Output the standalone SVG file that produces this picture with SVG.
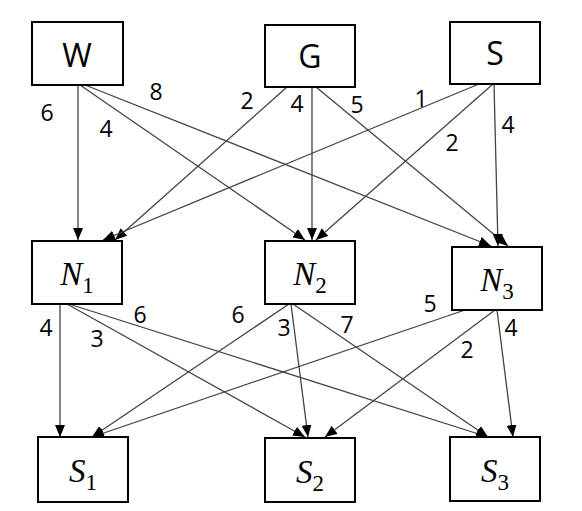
<svg xmlns="http://www.w3.org/2000/svg" width="582" height="511" viewBox="0 0 582 511">
<defs>
<marker id="ah" markerUnits="userSpaceOnUse" markerWidth="12" markerHeight="10" refX="12" refY="5" orient="auto">
<path d="M0,0 L12,5 L0,10 z" fill="#000"/>
</marker>
<style>
.box{fill:#fff;stroke:#000;stroke-width:2}
.edge{stroke:#444;stroke-width:1.3;fill:none;marker-end:url(#ah)}
.lbl{font-family:"Open Sans","Liberation Sans",sans-serif;font-size:23px;fill:#000;text-anchor:middle}
.big{font-family:"Open Sans","Liberation Sans",sans-serif;font-size:32px;fill:#000;text-anchor:middle}
.math{font-family:"Liberation Serif",serif;font-size:33px;font-style:italic;fill:#000;text-anchor:middle}
.sub{font-style:normal;font-size:23px}
</style>
</defs>
<rect width="582" height="511" fill="#fff"/>
<g id="connectors">
<path class="edge" d="M78,85 L78,240"/>
<path class="edge" d="M80,85 L305,240"/>
<path class="edge" d="M85,85 L491,246"/>
<path class="edge" d="M287,87 L115,240"/>
<path class="edge" d="M312,87 L312,240"/>
<path class="edge" d="M316,87 L508,246"/>
<path class="edge" d="M479,84 L103,240"/>
<path class="edge" d="M493,84 L316,240"/>
<path class="edge" d="M494,84 L498,246"/>
<path class="edge" d="M60,304 L60,437"/>
<path class="edge" d="M67,304 L305,437"/>
<path class="edge" d="M69,304 L488,437"/>
<path class="edge" d="M289,304 L92,437"/>
<path class="edge" d="M291,304 L308,437"/>
<path class="edge" d="M293,304 L488,437"/>
<path class="edge" d="M465,310 L92,437"/>
<path class="edge" d="M495,310 L325,437"/>
<path class="edge" d="M497,310 L513,437"/>
<text class="lbl" x="47" y="121">6</text>
<text class="lbl" x="106" y="137">4</text>
<text class="lbl" x="156" y="100">8</text>
<text class="lbl" x="247" y="109">2</text>
<text class="lbl" x="297" y="112">4</text>
<text class="lbl" x="357" y="113">5</text>
<text class="lbl" x="421" y="107">1</text>
<text class="lbl" x="452" y="151">2</text>
<text class="lbl" x="508" y="133">4</text>
<text class="lbl" x="46" y="336">4</text>
<text class="lbl" x="97" y="347">3</text>
<text class="lbl" x="140" y="323">6</text>
<text class="lbl" x="238" y="323">6</text>
<text class="lbl" x="284" y="336">3</text>
<text class="lbl" x="347" y="333">7</text>
<text class="lbl" x="430" y="312">5</text>
<text class="lbl" x="467" y="358">2</text>
<text class="lbl" x="511" y="336">4</text>
</g>
<g id="W"><rect class="box" x="32" y="22" width="91" height="63"/><text class="big" x="77" y="67">W</text></g>
<g id="G"><rect class="box" x="265" y="25" width="90" height="62"/><text class="big" x="310" y="68">G</text></g>
<g id="S"><rect class="box" x="450" y="22" width="90" height="62"/><text class="big" x="495" y="65">S</text></g>
<g id="N1"><rect class="box" x="32" y="241" width="90" height="63"/><text class="math" x="77" y="285">N<tspan class="sub" dy="8">1</tspan></text></g>
<g id="N2"><rect class="box" x="265" y="241" width="90" height="63"/><text class="math" x="310" y="285">N<tspan class="sub" dy="8">2</tspan></text></g>
<g id="N3"><rect class="box" x="452" y="247" width="90" height="63"/><text class="math" x="497" y="291">N<tspan class="sub" dy="8">3</tspan></text></g>
<g id="S1"><rect class="box" x="38" y="437" width="90" height="65"/><text class="math" x="83" y="482">S<tspan class="sub" dy="8">1</tspan></text></g>
<g id="S2"><rect class="box" x="265" y="438" width="90" height="64"/><text class="math" x="310" y="483">S<tspan class="sub" dy="8">2</tspan></text></g>
<g id="S3"><rect class="box" x="450" y="437" width="90" height="64"/><text class="math" x="495" y="482">S<tspan class="sub" dy="8">3</tspan></text></g>
</svg>
